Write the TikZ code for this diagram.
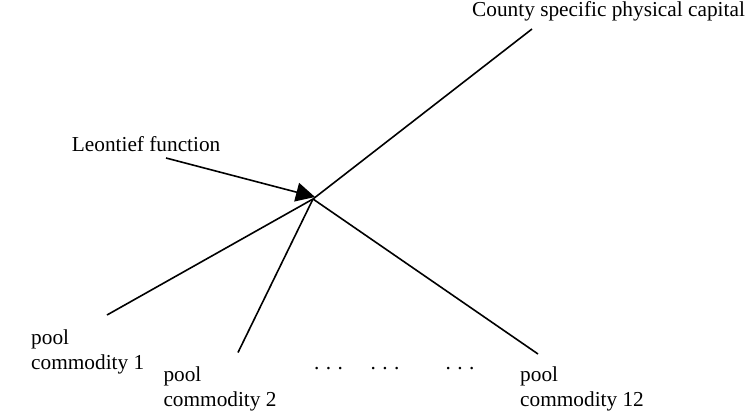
\documentclass[tikz,border=0pt]{standalone}
\usepackage{fontspec}
\setmainfont{Liberation Serif}
\usetikzlibrary{arrows.meta}
\tikzset{
  label/.style={inner sep=0pt, anchor=base west, align=left,
    font=\fontsize{21.3}{25}\selectfont},
  dots/.style={inner sep=0pt, anchor=base, font=\fontsize{21.3}{25}\selectfont},
  link/.style={line width=1.6pt},
  pointer/.style={line width=1.6pt, -{Triangle[length=19pt,width=19pt]}}
}
\begin{document}
\begin{tikzpicture}[x=1pt,y=-1pt]
  \useasboundingbox (0,0) rectangle (752,412);

  % labels
  \node[label] (capital) at (472,17) {County specific physical capital};
  \node[label] (leontief) at (71.7,151.7) {Leontief function};
  \node[label] (pool1) at (31,369) {pool\\commodity 1};
  \node[label] (pool2) at (163.3,406.5) {pool\\commodity 2};
  \node[label] (pool12) at (520,406.5) {pool\\commodity 12};
  \node[dots] (dotsA) at (328.5,369.5) {.\hspace{0.3em}.\hspace{0.3em}.};
  \node[dots] (dotsB) at (385,369.5) {.\hspace{0.3em}.\hspace{0.3em}.};
  \node[dots] (dotsC) at (460,369.5) {.\hspace{0.3em}.\hspace{0.3em}.};

  % junction and line ends
  \coordinate (hub) at (313,199);
  \coordinate (tip) at (315,197);
  \coordinate (leoEnd) at (166,158);
  \coordinate (capEnd) at (532,29);
  \coordinate (p1End) at (107,315);
  \coordinate (p2End) at (238,352.5);
  \coordinate (p12End) at (538,354);

  % connectors
  \draw[link] (hub) -- (capEnd);
  \draw[link] (hub) -- (p1End);
  \draw[link] (hub) -- (p2End);
  \draw[link] (hub) -- (p12End);
  \draw[pointer] (leoEnd) -- (tip);
\end{tikzpicture}
\end{document}
